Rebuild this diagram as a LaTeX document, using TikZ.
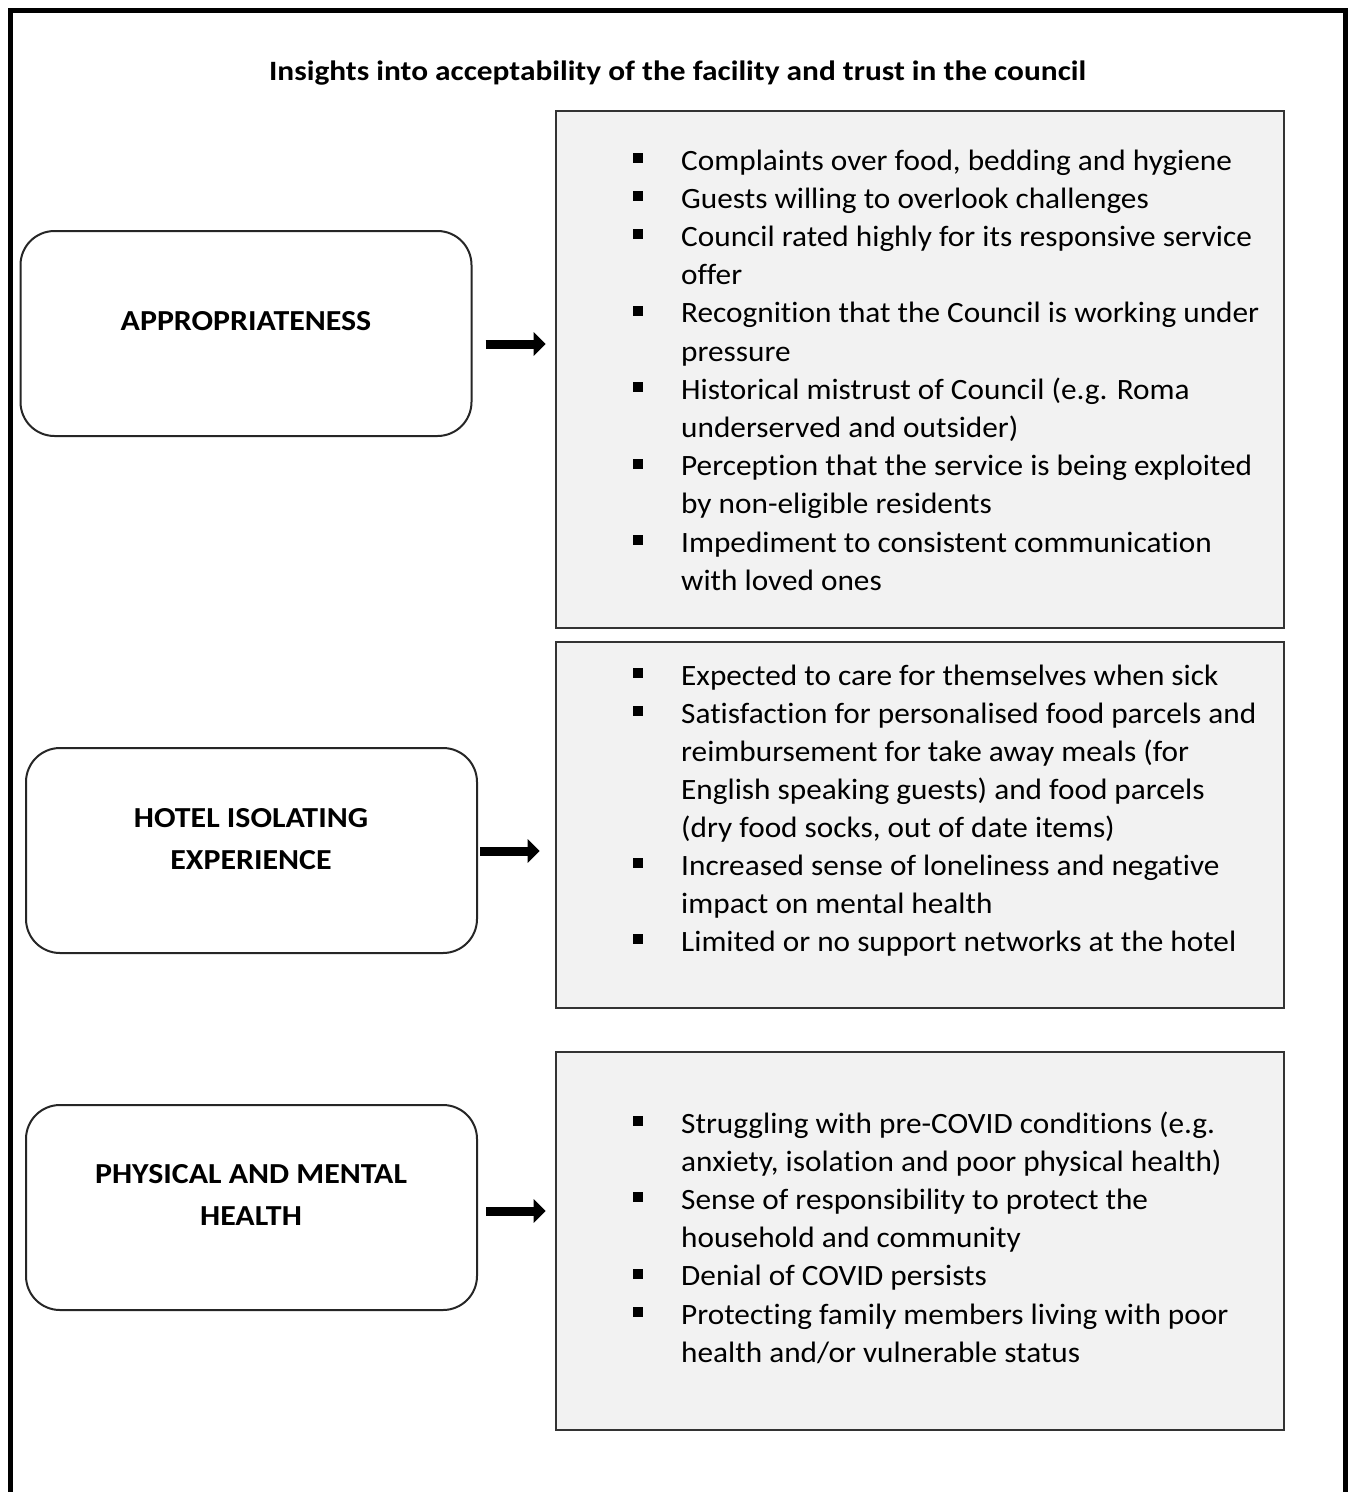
\documentclass[tikz,border=0pt]{standalone}
\usepackage{fontspec}
\setmainfont{Carlito}[Ligatures=NoCommon]
\newfontfamily\itemfont{Carlito}[FakeStretch=1.06,Ligatures=NoCommon]
\newfontfamily\labelfont{Carlito}[FakeStretch=1.10,Ligatures=NoCommon]
\newfontfamily\titlefont{Carlito}[FakeStretch=1.12,Ligatures=NoCommon]
\usetikzlibrary{arrows.meta,calc}
\newcommand{\bl}{\llap{\rule[7pt]{10pt}{10pt}\hspace{38pt}}}
\begin{document}
\begin{tikzpicture}[x=1pt,y=-1pt,
  catbox/.style={draw=black!85,line width=2pt,rounded corners=34pt,minimum width=451pt,minimum height=205pt,inner sep=0pt,fill=white},
  graybox/.style={draw=black!80,line width=2.6pt,fill=black!5,minimum width=728pt,inner sep=0pt},
  itemtxt/.style={anchor=base west,inner sep=0pt,font=\itemfont\fontsize{29.5}{34}\selectfont},
  cattxt/.style={anchor=base,inner sep=0pt,font=\labelfont\fontsize{29}{34}\selectfont\bfseries},
  bigarrow/.style={line width=9pt,-{Triangle[length=12pt,width=23pt]}}
]
\useasboundingbox (0,0) rectangle (1349,1492);
\fill[white] (0,0) rectangle (1349,1492);
% outer frame (bottom edge lies outside the picture)
\draw[line width=5pt] (10,1510) -- (10,10) -- (1345.5,10) -- (1345.5,1510);

% title
\node[anchor=base,inner sep=0pt,font=\titlefont\fontsize{28}{32}\selectfont\bfseries] (title) at (677.5,80)
  {Insights into acceptability of the facility and trust in the council};

% category boxes
\node[catbox] (app) at (246,333.5) {};
\node[catbox] (hot) at (251.5,850.5) {};
\node[catbox] (phy) at (251.5,1207.5) {};
\node[cattxt] (appt) at (246,330) {APPROPRIATENESS};
\node[cattxt] (hott1) at (251,827) {HOTEL ISOLATING};
\node[cattxt] (hott2) at (251,869) {EXPERIENCE};
\node[cattxt] (phyt1) at (251,1183) {PHYSICAL AND MENTAL};
\node[cattxt] (phyt2) at (251,1225) {HEALTH};

% gray boxes
\node[graybox,minimum height=517pt] (gA) at (920,369.5) {};
\node[graybox,minimum height=366pt] (gB) at (920,825) {};
\node[graybox,minimum height=378pt] (gC) at (920,1241) {};

% arrows
\draw[bigarrow,shorten <=13pt,shorten >=9pt] ([yshift=-10.5pt]app.east) -- ([yshift=-10.5pt]app.east -| gA.west);
\draw[bigarrow,shorten <=2pt,shorten >=15pt] ([yshift=-0.5pt]hot.east) -- ([yshift=-0.5pt]hot.east -| gB.west);
\draw[bigarrow,shorten <=8pt,shorten >=9pt] ([yshift=-3.5pt]phy.east) -- ([yshift=-3.5pt]phy.east -| gC.west);

% box A items
\node[itemtxt] (a1) at (681,170) {\bl Complaints over food, bedding and hygiene};
\node[itemtxt] (a2) at (681,208.2) {\bl Guests willing to overlook challenges};
\node[itemtxt] (a3) at (681,246.4) {\bl Council rated highly for its responsive service};
\node[itemtxt] (a4) at (681,284.6) {offer};
\node[itemtxt] (a5) at (681,322.8) {\bl Recognition that the Council is working under};
\node[itemtxt] (a6) at (681,361) {pressure};
\node[itemtxt] (a7) at (681,399.2) {\bl Historical mistrust of Council (e.g. Roma};
\node[itemtxt] (a8) at (681,437.4) {underserved and outsider)};
\node[itemtxt] (a9) at (681,475.6) {\bl Perception that the service is being exploited};
\node[itemtxt] (a10) at (681,513.8) {by non-eligible residents};
\node[itemtxt] (a11) at (681,552) {\bl Impediment to consistent communication};
\node[itemtxt] (a12) at (681,590.2) {with loved ones};

% box B items
\node[itemtxt] (b1) at (681,685) {\bl Expected to care for themselves when sick};
\node[itemtxt] (b2) at (681,723) {\bl Satisfaction for personalised food parcels and};
\node[itemtxt] (b3) at (681,761) {reimbursement for take away meals (for};
\node[itemtxt] (b4) at (681,799) {English speaking guests) and food parcels};
\node[itemtxt] (b5) at (681,837) {(dry food socks, out of date items)};
\node[itemtxt] (b6) at (681,875) {\bl Increased sense of loneliness and negative};
\node[itemtxt] (b7) at (681,913) {impact on mental health};
\node[itemtxt] (b8) at (681,951) {\bl Limited or no support networks at the hotel};

% box C items
\node[itemtxt] (c1) at (681,1133) {\bl Struggling with pre-COVID conditions (e.g.};
\node[itemtxt] (c2) at (681,1171.2) {anxiety, isolation and poor physical health)};
\node[itemtxt] (c3) at (681,1209.4) {\bl Sense of responsibility to protect the};
\node[itemtxt] (c4) at (681,1247.6) {household and community};
\node[itemtxt] (c5) at (681,1285.8) {\bl Denial of COVID persists};
\node[itemtxt] (c6) at (681,1324) {\bl Protecting family members living with poor};
\node[itemtxt] (c7) at (681,1362.2) {health and/or vulnerable status};
\end{tikzpicture}
\end{document}
